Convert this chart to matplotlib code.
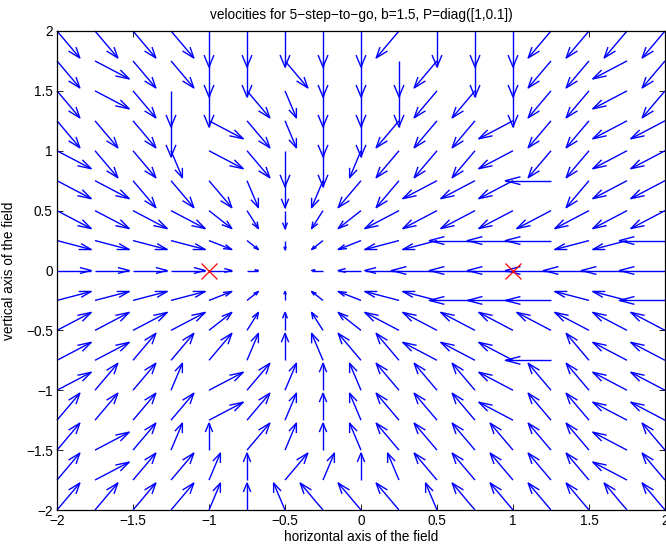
import numpy as np
import matplotlib
matplotlib.use("Agg")
import matplotlib.pyplot as plt
from matplotlib.collections import LineCollection

# ---------------- data ----------------
x_grid = [-2.0, -1.75, -1.5, -1.25, -1.0, -0.75, -0.5, -0.25, 0.0,
          0.25, 0.5, 0.75, 1.0, 1.25, 1.5, 1.75, 2.0]
y_grid = [2.0, 1.75, 1.5, 1.25, 1.0, 0.75, 0.5, 0.25, 0.0,
          -0.25, -0.5, -0.75, -1.0, -1.25, -1.5, -1.75, -2.0]

# velocity components (rows: y from 2 down to -2, cols: x from -2 to 2)
U = [
    [2, 2, 2, 2, 0, 0, 0, 0, 0, -2, 0, 0, 0, -2, -2, -2, -2],
    [2, 3, 2, 2, 0, 0, 2, 0, 0, 0, -2, 0, 0, -2, -2, -3, -2],
    [2, 3, 2, 0, 0, 2, 1, 0, 0, 0, -2, -2, 0, -2, -2, -3, -2],
    [2, 2, 2, 0, 3, 2, 1, 0, 0, -2, -2, -2, -3, -2, -2, -3, -3],
    [3, 2, 2, 1, 3, 2, 0, 0, -1, -2, -2, -2, -3, -2, -2, -3, -3],
    [3, 3, 2, 2, 2, 1, 0, -1, -2, -2, -3, -3, -3, -4, -2, -3, -3],
    [3, 3, 3, 3, 2, 1, 0, -1, -2, -3, -3, -3, -3, -3, -3, -3, -3],
    [3, 3, 3, 3, 2, 1, 0, -1, -2, -3, -3, -4, -4, -4, -3, -3, -4],
    [3, 3, 3, 3, 2, 1, 0, -1, -2, -3, -4, -4, -4, -4, -4, -4, -4],
    [3, 3, 3, 3, 2, 1, 0, -1, -2, -3, -3, -4, -4, -4, -3, -3, -4],
    [3, 3, 3, 3, 2, 1, 0, -1, -2, -3, -3, -3, -3, -3, -3, -3, -3],
    [3, 3, 2, 2, 2, 1, 0, -1, -2, -2, -3, -3, -3, -4, -2, -3, -3],
    [3, 2, 2, 1, 3, 2, 1, 0, -1, -2, -2, -2, -3, -2, -2, -3, -3],
    [2, 2, 2, 2, 3, 2, 1, 0, -1, -2, -2, -2, -3, -2, -2, -3, -3],
    [2, 3, 2, 1, 0, 2, 1, 0, -1, -2, -2, -2, -2, -2, -2, -3, -2],
    [2, 3, 2, 2, 1, 0, 2, 1, 0, -1, -2, -2, -2, -2, -2, -3, -2],
    [2, 2, 2, 2, 1, 0, -1, -2, -2, -2, -1, -2, -2, -2, -2, -2, -2],
]
V = [
    [-3, -3, -3, -3, -4, -4, -4, -4, -4, -3, -4, -4, -4, -3, -3, -3, -3],
    [-3, -2, -3, -3, -4, -4, -3, -4, -4, -4, -3, -4, -4, -3, -3, -2, -3],
    [-3, -2, -3, -4, -4, -3, -3, -4, -4, -4, -3, -3, -4, -3, -3, -2, -3],
    [-3, -3, -3, -4, -2, -3, -3, -4, -4, -3, -3, -3, -2, -3, -3, -2, -2],
    [-2, -3, -3, -3, -2, -3, -4, -4, -3, -3, -3, -3, -2, -3, -3, -2, -2],
    [-2, -2, -3, -3, -3, -3, -3, -3, -3, -3, -2, -2, -2, 0, -3, -2, -2],
    [-2, -2, -2, -2, -2, -2, -2, -2, -2, -2, -2, -2, -2, -2, -2, -2, -2],
    [-1, -1, -1, -1, -1, -1, -1, -1, -1, -1, -1, 0, 0, 0, -1, -1, 0],
    [0, 0, 0, 0, 0, 0, 0, 0, 0, 0, 0, 0, 0, 0, 0, 0, 0],
    [1, 1, 1, 1, 1, 1, 1, 1, 1, 1, 1, 0, 0, 0, 1, 1, 0],
    [2, 2, 2, 2, 2, 2, 2, 2, 2, 2, 2, 2, 2, 2, 2, 2, 2],
    [2, 2, 3, 3, 3, 3, 3, 3, 3, 3, 2, 2, 2, 0, 3, 2, 2],
    [2, 3, 3, 3, 2, 3, 3, 3, 3, 3, 3, 3, 2, 3, 3, 2, 2],
    [3, 3, 3, 3, 2, 3, 3, 3, 3, 3, 3, 3, 2, 3, 3, 2, 2],
    [3, 2, 3, 3, 3, 3, 3, 3, 3, 3, 3, 3, 3, 3, 3, 2, 3],
    [3, 2, 3, 3, 3, 3, 3, 3, 3, 3, 3, 3, 3, 3, 3, 2, 3],
    [3, 3, 3, 3, 3, 3, 3, 3, 3, 3, 3, 3, 3, 3, 3, 3, 3],
]

target_x = [-1, 1]
target_y = [0, 0]

tick_vals = [-2, -1.5, -1, -0.5, 0, 0.5, 1, 1.5, 2]
tick_labels = ["\u22122", "\u22121.5", "\u22121", "\u22120.5", "0", "0.5", "1", "1.5", "2"]

title_text = "velocities for 5\u2212step\u2212to\u2212go, b=1.5, P=diag([1,0.1])"
xlabel_text = "horizontal axis of the field"
ylabel_text = "vertical axis of the field"

# ---------------- drawing ----------------
plt.rcParams["font.family"] = ["Liberation Sans", "DejaVu Sans"]
FS = 9.8

fig = plt.figure(figsize=(6.66, 5.46), dpi=100)
ax = fig.add_axes([57 / 666, 36 / 546, 608 / 666, 479 / 546])

arrow_scale = 0.075   # display scale of one velocity unit (data units)
X, Y = np.meshgrid(np.array(x_grid), np.array(y_grid))
u = np.array(U, float) * arrow_scale
v = np.array(V, float) * arrow_scale

alpha, beta = 0.33, 0.33   # MATLAB-style arrow head
segs = []
for x0, y0, du, dv in zip(X.ravel(), Y.ravel(), u.ravel(), v.ravel()):
    if du == 0 and dv == 0:
        continue
    tx, ty = x0 + du, y0 + dv
    segs.append([(x0, y0), (tx, ty)])
    b1 = (tx - alpha * (du + beta * dv), ty - alpha * (dv - beta * du))
    b2 = (tx - alpha * (du - beta * dv), ty - alpha * (dv + beta * du))
    segs.append([b1, (tx, ty), b2])

lc = LineCollection(segs, colors="#0000ff", linewidths=1.0, clip_on=False,
                    antialiased=True)
ax.add_collection(lc)

ax.plot(target_x, target_y, "x", color="#ff0000", markersize=12,
        markeredgewidth=0.9, zorder=5)

ax.set_xlim(-2, 2)
ax.set_ylim(-2, 2)
ax.set_xticks(tick_vals)
ax.set_xticklabels(tick_labels, fontsize=FS)
ax.set_yticks(tick_vals)
ax.set_yticklabels(tick_labels, fontsize=FS)
ax.tick_params(direction="in", length=4, width=0.6, top=True, right=True,
               pad=3)
for s in ax.spines.values():
    s.set_linewidth(0.9)

ax.set_title(title_text, fontsize=FS, pad=9)
ax.set_xlabel(xlabel_text, fontsize=FS, labelpad=1)
ax.set_ylabel(ylabel_text, fontsize=FS, labelpad=7)

fig.savefig("out.png", dpi=100)
